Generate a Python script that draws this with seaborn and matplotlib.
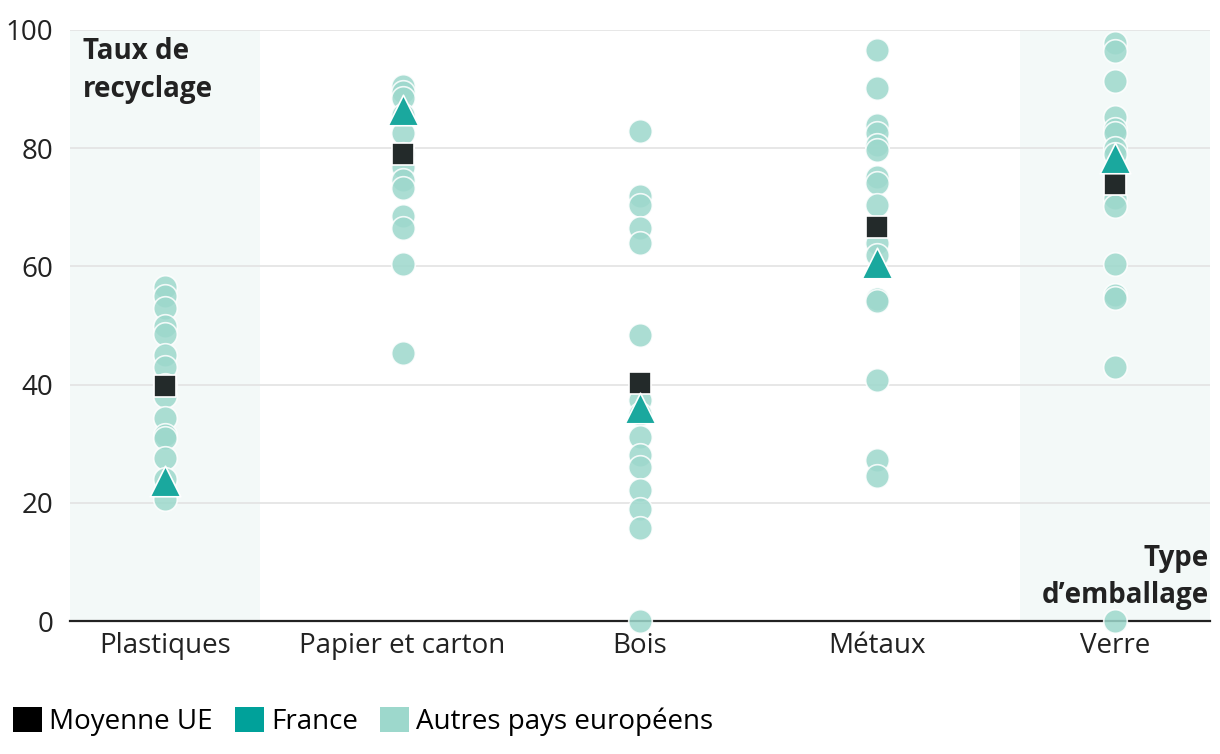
import numpy as np
import pandas as pd
import matplotlib
matplotlib.use("Agg")
import matplotlib.pyplot as plt
from matplotlib.patches import Patch
import seaborn as sns

categories = ["Plastiques", "Papier et carton", "Bois", "Métaux", "Verre"]

autres_plastiques = [56.5, 55, 53, 50, 48.5, 45, 43, 40, 38, 34.3, 31.5, 31, 27.5, 24, 20.6]
autres_papier = [90.5, 89.5, 88.5, 85.6, 82.6, 79, 76.8, 74.6, 73.3, 68.5, 66.5, 60.4, 45.3]
autres_bois = [82.9, 71.9, 70.4, 66.5, 64.0, 48.4, 37.4, 35, 31.1, 28.1, 26.1, 22.2, 19.0, 15.7, 0]
autres_metaux = [96.6, 90.2, 83.9, 82.6, 80.5, 79.7, 75.1, 74.1, 70.4, 64.0, 62.0, 54.5, 54.2, 40.8, 27.2, 24.6]
autres_verre = [97.8, 96.5, 91.3, 85.2, 83.2, 82.5, 80, 79, 71.5, 70.3, 60.4, 55.2, 54.6, 42.9, 0]

france = [23.7, 86.5, 36.0, 60.6, 78.3]
moyenne_ue = [39.7, 79.0, 40.3, 66.7, 73.9]

series_labels = ["Moyenne UE", "France", "Autres pays européens"]
y_ticks = [0, 20, 40, 60, 80, 100]

c_autres = "#9dd8cc"
c_france = "#1aa89e"
c_ue = "#232a2a"

plt.rcParams["font.family"] = ["Open Sans", "DejaVu Sans"]
FS = 20

autres_lists = [autres_plastiques, autres_papier, autres_bois, autres_metaux, autres_verre]
df_autres = pd.DataFrame(
    [(cat, v) for cat, vals in zip(categories, autres_lists) for v in vals],
    columns=["type", "taux"],
)
df_fr = pd.DataFrame({"type": categories, "taux": france})
df_ue = pd.DataFrame({"type": categories, "taux": moyenne_ue})

fig = plt.figure(figsize=(12.2, 7.54), dpi=100)
ax = fig.add_axes([70 / 1220, 1 - 621 / 754, 1140 / 1220, 591 / 754])

# background bands
for i in [0, 4]:
    ax.axvspan(i - 0.4, i + 0.4, color="#f3f9f8", zorder=0, lw=0)

sns.stripplot(data=df_autres, x="type", y="taux", order=categories, jitter=False,
              color=c_autres, size=17, alpha=0.85, edgecolor="white", linewidth=1.2,
              ax=ax, zorder=3, clip_on=False)
sns.stripplot(data=df_ue, x="type", y="taux", order=categories, jitter=False,
              color=c_ue, marker="s", size=16, edgecolor="white", linewidth=1.2,
              ax=ax, zorder=4, clip_on=False)
sns.stripplot(data=df_fr, x="type", y="taux", order=categories, jitter=False,
              color=c_france, marker="^", size=22, edgecolor="white", linewidth=1.2,
              ax=ax, zorder=5, clip_on=False)

ax.set_xlim(-0.4, 4.4)
ax.set_ylim(0, 100)
ax.set_yticks(y_ticks)
ax.set_yticklabels([str(t) for t in y_ticks])
ax.yaxis.grid(True, color="#e3e3e3", lw=1.2, zorder=1)
ax.set_axisbelow(True)
for s in ["top", "right", "left"]:
    ax.spines[s].set_visible(False)
ax.spines["bottom"].set_color("#222222")
ax.spines["bottom"].set_linewidth(1.6)
ax.spines["bottom"].set_zorder(2)
ax.tick_params(axis="both", length=0, labelsize=FS, colors="#222222", pad=8)
ax.tick_params(axis="y", pad=12)
ax.set_xlabel("")
ax.set_ylabel("")

ax.text(0.011, 0.988, "Taux de\nrecyclage", transform=ax.transAxes, ha="left", va="top",
        fontsize=FS, fontweight="bold", color="#222222", linespacing=1.4, zorder=6)
ax.text(0.999, 0.13, "Type\nd’emballage", transform=ax.transAxes, ha="right", va="top",
        fontsize=FS, fontweight="bold", color="#222222", linespacing=1.35, zorder=6)

handles = [Patch(facecolor="#000000"), Patch(facecolor="#00a19a"), Patch(facecolor=c_autres)]
fig.legend(handles, series_labels, loc="lower left", bbox_to_anchor=(-0.004, 0.0),
           ncol=3, frameon=False, fontsize=FS, handlelength=1.05, handleheight=1.05,
           handletextpad=0.25, columnspacing=0.8, borderaxespad=0.25)

fig.savefig("out.png", dpi=100)
